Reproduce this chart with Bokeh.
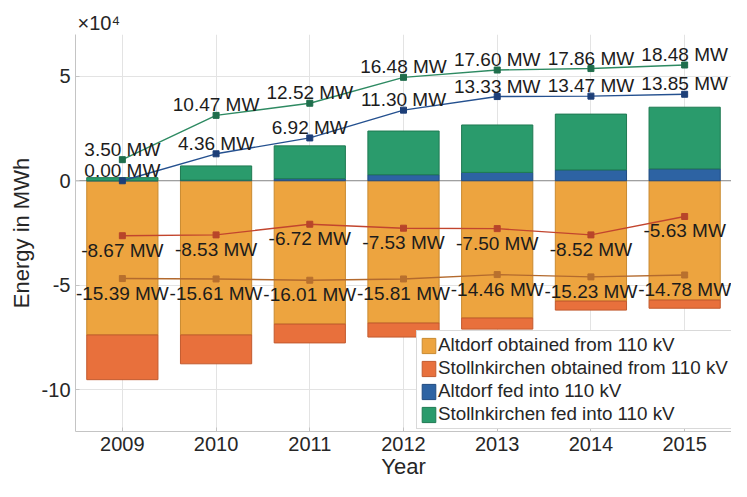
import numpy as np
from bokeh.plotting import figure
from bokeh.models import (ColumnDataSource, FixedTicker, Legend, LegendItem,
                          LabelSet, Span, Range1d, PrintfTickFormatter)
from bokeh.core.properties import value
from bokeh.embed import file_html
from bokeh.resources import INLINE

# ---------------- data (energy in 10^4 MWh) ----------------
years = [2009, 2010, 2011, 2012, 2013, 2014, 2015]
altdorf_obtained = [-7.38, -7.38, -6.86, -6.81, -6.57, -5.76, -5.71]
stolln_obtained = [-2.14, -1.38, -0.90, -0.67, -0.53, -0.43, -0.39]
altdorf_fed = [0.00, 0.03, 0.10, 0.29, 0.40, 0.52, 0.57]
stolln_fed = [0.15, 0.68, 1.57, 2.09, 2.27, 2.67, 2.95]

# power curves (plotted in the same axis) with their MW labels
line_top = [1.01, 3.13, 3.71, 4.95, 5.30, 5.37, 5.54]
line_top_mw = [3.50, 10.47, 12.52, 16.48, 17.60, 17.86, 18.48]
line_mid = [0.00, 1.29, 2.05, 3.38, 4.03, 4.05, 4.14]
line_mid_mw = [0.00, 4.36, 6.92, 11.30, 13.33, 13.47, 13.85]
line_neg1 = [-2.63, -2.59, -2.08, -2.27, -2.29, -2.59, -1.71]
line_neg1_mw = [-8.67, -8.53, -6.72, -7.53, -7.50, -8.52, -5.63]
line_neg2 = [-4.68, -4.70, -4.76, -4.70, -4.49, -4.60, -4.51]
line_neg2_mw = [-15.39, -15.61, -16.01, -15.81, -14.46, -15.23, -14.78]

y_ticks = [-10, -5, 0, 5]
legend_labels = ["Altdorf obtained from 110 kV",
                 "Stollnkirchen obtained from 110 kV",
                 "Altdorf fed into 110 kV",
                 "Stollnkirchen fed into 110 kV"]

FONT = "Liberation Sans"
TXT = "#262626"

c_orange, e_orange = "#EDA43F", "#C98A30"
c_red, e_red = "#E8703C", "#C25A2E"
c_blue, e_blue = "#2D63A3", "#1F4A80"
c_green, e_green = "#2A9B6C", "#1F7A52"

p = figure(width=731, height=481, x_range=Range1d(2008.5, 2015.5),
           y_range=Range1d(-12, 7), output_backend="svg", toolbar_location=None,
           min_border_left=75, min_border_right=0, min_border_top=34,
           min_border_bottom=40)
p.outline_line_color = None
p.background_fill_color = "white"

p.title.text = "\u00d710\u2074"
p.title.text_font = FONT
p.title.text_font_size = "20px"
p.title.text_font_style = "normal"
p.title.text_color = TXT
p.title.align = "left"
p.title.offset = 2
p.title.standoff = 2

# grid / axes
p.xaxis.ticker = FixedTicker(ticks=years)
p.yaxis.ticker = FixedTicker(ticks=y_ticks)
p.yaxis.formatter = PrintfTickFormatter(format="%d")
p.xgrid.ticker = FixedTicker(ticks=years)
p.ygrid.ticker = FixedTicker(ticks=y_ticks)
for g in (p.xgrid, p.ygrid):
    g.grid_line_color = "#e3e3e3"
    g.grid_line_width = 1
for ax in (p.xaxis, p.yaxis):
    ax.axis_line_color = "#c4c4c4"
    ax.major_tick_line_color = "#c4c4c4"
    ax.major_tick_in = 4
    ax.major_tick_out = 0
    ax.minor_tick_line_color = None
    ax.major_label_text_font = FONT
    ax.major_label_text_font_size = "20px"
    ax.major_label_text_color = TXT
    ax.axis_label_text_font = FONT
    ax.axis_label_text_font_size = "22px"
    ax.axis_label_text_font_style = "normal"
    ax.axis_label_text_color = TXT
p.xaxis.axis_label = "Year"
p.yaxis.axis_label = "Energy in MWh"
p.xaxis.major_label_standoff = 5
p.xaxis.axis_label_standoff = 0
p.yaxis.major_label_standoff = 5
p.yaxis.axis_label_standoff = 5

zero = Span(location=0, dimension="width", line_color="#8a8a8a", line_width=1,
            level="underlay")
p.add_layout(zero)

# stacked bars
a_o = np.array(altdorf_obtained)
s_o = np.array(stolln_obtained)
a_f = np.array(altdorf_fed)
s_f = np.array(stolln_fed)
W = 0.76
r1 = p.vbar(x=years, top=0, bottom=a_o, width=W, fill_color=c_orange,
            line_color=e_orange, line_width=1)
r2 = p.vbar(x=years, top=a_o, bottom=a_o + s_o, width=W, fill_color=c_red,
            line_color=e_red, line_width=1)
r3 = p.vbar(x=years, top=a_f, bottom=0, width=W, fill_color=c_blue,
            line_color=e_blue, line_width=1)
r4 = p.vbar(x=years, top=a_f + s_f, bottom=a_f, width=W, fill_color=c_green,
            line_color=e_green, line_width=1)

# lines with markers and labels
specs = [
    (line_top, line_top_mw, "#2E8A62", "#1F6E4C", True),
    (line_mid, line_mid_mw, "#24508F", "#1D3F78", True),
    (line_neg1, line_neg1_mw, "#C2452E", "#B8452A", False),
    (line_neg2, line_neg2_mw, "#B36A2E", "#B8702E", False),
]
for ys, mw, lc, mc, above in specs:
    src = ColumnDataSource(dict(x=years, y=ys,
                                t=["%.2f MW" % v for v in mw]))
    p.line("x", "y", source=src, line_color=lc, line_width=1.4)
    p.scatter("x", "y", source=src, marker="square", size=6,
              fill_color=mc, line_color=mc)
    ls = LabelSet(x="x", y="y", text="t", source=src,
                  text_align="center",
                  text_baseline="alphabetic" if above else "top",
                  y_offset=4 if above else -4,
                  text_font=value(FONT), text_font_size=value("19px"),
                  text_color="#1c1c1c")
    p.add_layout(ls)

legend = Legend(items=[LegendItem(label=legend_labels[0], renderers=[r1]),
                       LegendItem(label=legend_labels[1], renderers=[r2]),
                       LegendItem(label=legend_labels[2], renderers=[r3]),
                       LegendItem(label=legend_labels[3], renderers=[r4])],
                location=(341, 2), orientation="vertical")
legend.label_text_font = FONT
legend.label_text_font_size = "18.8px"
legend.label_text_color = TXT
legend.glyph_width = 17
legend.glyph_height = 19
legend.label_height = 19
legend.label_standoff = 1
legend.spacing = 1
legend.padding = 3
legend.margin = 0
legend.border_line_color = "#b4b4b4"
legend.background_fill_color = "white"
legend.background_fill_alpha = 1
p.add_layout(legend)

open("out.html", "w").write(file_html(p, INLINE))
